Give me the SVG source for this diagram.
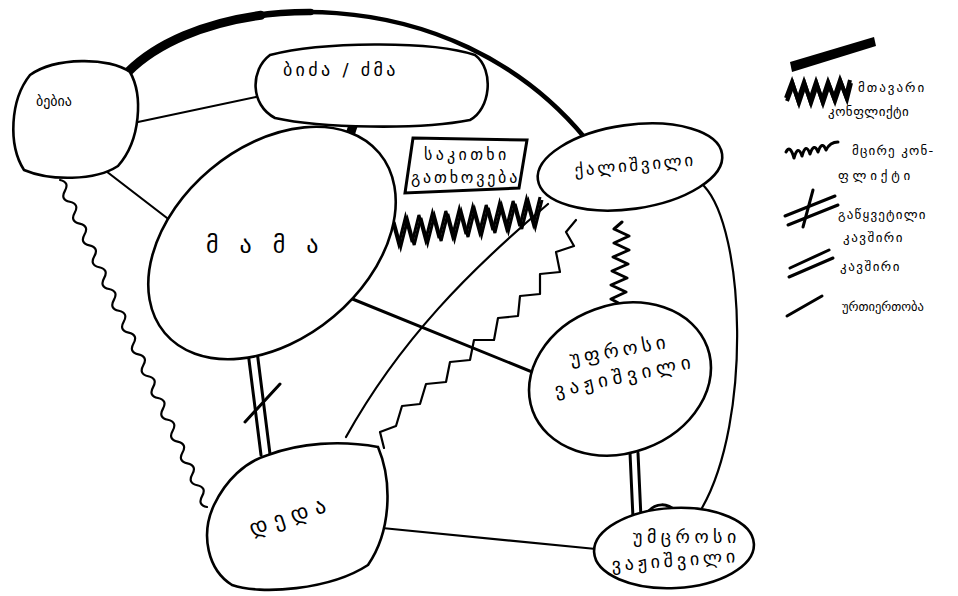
<svg xmlns="http://www.w3.org/2000/svg" width="958" height="596" viewBox="0 0 958 596">
  <style>
    .node { fill: #fff; stroke: #000; stroke-width: 2.6; }
    .lbl { font-family: "DejaVu Sans", "Noto Sans", sans-serif; fill: #000; }
    .thin { fill: none; stroke: #000; stroke-width: 2.2; stroke-linecap: round; stroke-linejoin: round; }
    .med { fill: none; stroke: #000; stroke-width: 3; stroke-linecap: round; stroke-linejoin: round; }
    .heavy { fill: none; stroke: #000; stroke-linecap: round; }
    .zig { fill: none; stroke: #000; stroke-linejoin: miter; }
  </style>
  <rect width="958" height="596" fill="#fff"/>

  <!-- connectors, drawn under the nodes -->
  <g id="connectors">
    <!-- strong tie: grandmother to daughter, tapering from the start -->
    <path class="heavy" stroke-width="4.5" d="M128,72 C210,-10 450,-25 585,138"/>
    <path class="heavy" stroke-width="6.5" d="M128,72 C164.9,35.1 233.8,11.77 310.7,12.1"/>
    <path class="heavy" stroke-width="9" d="M128,72 C156.7,43.3 204.8,22.8 260.9,15.3"/>
    <!-- strong tie: uncle to father -->
    <path d="M349,123 L358,125 L350,150 L341,148 Z" fill="#000"/>
    <!-- plain ties -->
    <path class="thin" d="M138,122 L256,97"/>
    <path class="thin" d="M102,168 L180,228"/>
    <path class="med" d="M350,298 L542,376"/>
    <path class="thin" d="M382,528 L596,549"/>
    <path class="thin" d="M704,186 C745,230 752,420 702,508"/>
    <path class="thin" d="M548,204 C470,270 400,340 346,437"/>
    <!-- wavy line: grandmother to mother -->
    <path class="thin" d="M60,180 Q69.8,182.2 64.9,190.9 T69.8,201.8 T74.7,212.7 T79.6,223.6 T84.5,234.5 T89.4,245.4 T94.3,256.3 T99.2,267.2 T104.1,278.1 T109,289 T113.9,299.9 T118.8,310.8 T123.7,321.7 T128.6,332.6 T133.5,343.5 T138.4,354.4 T143.3,365.3 T148.2,376.2 T153.1,387.1 T158,398 T162.9,408.9 T167.8,419.8 T172.7,430.7 T177.6,441.6 T182.5,452.5 T187.4,463.4 T192.3,474.3 T197.2,485.2 T202.1,496.1 T207,507"/>
    <!-- sawtooth edge: daughter to mother -->
    <path class="thin" d="M576,220 L566,232 L574,246 L556,252 L560,272 L540,274 L540,294 L520,296 L518,316 L498,318 L494,340 L474,340 L470,360 L450,362 L446,382 L426,384 L420,404 L402,406 L396,426 L380,432 L384,448"/>
    <!-- heavy conflict zigzag: father to daughter -->
    <path class="zig" stroke-width="3" d="M392,219 L398.7,244 L405.5,217 L412.2,242 L418.9,215 L425.6,240 L432.4,213 L439.1,238 L445.8,211 L452.5,236 L459.3,209 L466,234 L472.7,207 L479.5,232 L486.2,205 L492.9,230 L499.6,203 L506.4,228 L513.1,201 L519.8,226 L526.5,199 L533.3,224 L540,197"/>
    <path class="zig" stroke-width="3" transform="translate(2,3)" d="M392,219 L398.7,244 L405.5,217 L412.2,242 L418.9,215 L425.6,240 L432.4,213 L439.1,238 L445.8,211 L452.5,236 L459.3,209 L466,234 L472.7,207 L479.5,232 L486.2,205 L492.9,230 L499.6,203 L506.4,228 L513.1,201 L519.8,226 L526.5,199 L533.3,224 L540,197"/>
    <!-- conflict zigzag: daughter to elder son -->
    <path class="med" d="M622,222 L614,229 L629,236 L614,243 L629,250 L613,257 L628,264 L612,271 L627,278 L611,285 L626,292 L611,299 L624,306 L613,313"/>
    <!-- double lines -->
    <path class="med" d="M248,352 L261,455"/>
    <path class="med" d="M257,351 L270,454"/>
    <path class="med" d="M245,422 L280,384"/>
    <path class="med" d="M630,453 L633,518"/>
    <path class="med" d="M638,453 L641,518"/>
    <path class="med" d="M648,512 C655,503 668,502 676,512"/>
  </g>

  <g id="n-grandmother">
    <path class="node" d="M30,75 C55,57 110,57 130,72 C143,95 141,140 118,166 C95,181 50,181 24,170 C8,145 10,100 30,75 Z"/>
    <text class="lbl" x="36" y="106" font-size="14">ბებია</text>
  </g>

  <g id="n-uncle">
    <path class="node" d="M270,55 C320,42 430,40 475,55 C495,70 490,110 470,120 C420,130 320,128 275,118 C250,105 250,70 270,55 Z"/>
    <text class="lbl" x="283" y="76" font-size="18" letter-spacing="3.3">ბიძა / ძმა</text>
  </g>

  <g id="n-father">
    <ellipse class="node" cx="272" cy="243" rx="140" ry="96" transform="rotate(-40 272 243)"/>
    <text class="lbl" x="206" y="253" font-size="24" letter-spacing="21">მამა</text>
  </g>

  <g id="n-issue">
    <path d="M413,138 L527,140 L519,188 L405,193 Z" fill="#fff" stroke="#000" stroke-width="3"/>
    <text class="lbl" x="424" y="160" font-size="16" letter-spacing="3.3">საკითხი</text>
    <text class="lbl" x="411" y="183" font-size="16" letter-spacing="2.8">გათხოვება</text>
  </g>

  <g id="n-daughter">
    <ellipse class="node" cx="630" cy="167" rx="93" ry="42" transform="rotate(-8 630 167)"/>
    <text class="lbl" x="575" y="176" font-size="17" letter-spacing="2.7" transform="rotate(-5 575 176)">ქალიშვილი</text>
  </g>

  <g id="n-elder-son">
    <ellipse class="node" cx="620" cy="379" rx="93" ry="74" transform="rotate(-20 620 379)"/>
    <text class="lbl" x="571" y="365" font-size="19" letter-spacing="4.3" transform="rotate(-10 571 365)">უფროსი</text>
    <text class="lbl" x="556" y="397" font-size="19" letter-spacing="5" transform="rotate(-12 556 397)">ვაჟიშვილი</text>
  </g>

  <g id="n-mother">
    <path class="node" d="M268,455 C300,443 340,440 378,447 C392,480 392,530 368,565 C330,590 260,595 232,585 C208,570 200,535 214,505 C226,480 245,462 268,455 Z"/>
    <text class="lbl" x="252" y="536" font-size="22" letter-spacing="7" transform="rotate(-18 252 536)">დედა</text>
  </g>

  <g id="n-younger-son">
    <ellipse class="node" cx="674" cy="548" rx="80" ry="40" transform="rotate(-3 674 548)"/>
    <text class="lbl" x="633" y="543" font-size="18" letter-spacing="4.5">უმცროსი</text>
    <text class="lbl" x="612" y="571" font-size="18" letter-spacing="3.8" transform="rotate(-4 612 571)">ვაჟიშვილი</text>
  </g>

  <g id="legend">
    <path d="M790,62 L874,37 L876,46 L792,72 Z" fill="#000"/>
    <path class="zig" stroke-width="4" d="M786,98 L792,82 L798,100 L804,82 L810,100 L816,82 L822,100 L828,82 L834,98 L840,80 L846,96 L850,80"/>
    <path class="zig" stroke-width="4" transform="translate(1,3)" d="M786,98 L792,82 L798,100 L804,82 L810,100 L816,82 L822,100 L828,82 L834,98 L840,80 L846,96 L850,80"/>
    <text class="lbl" x="858" y="92" font-size="13" letter-spacing="2">მთავარი</text>
    <text class="lbl" x="828" y="116" font-size="13" letter-spacing="0.5">კონფლიქტი</text>
    <path class="med" d="M786,152 Q790,144 794,158 Q798,144 802,156 Q806,142 810,154 Q814,142 818,152 Q822,140 826,150 Q830,142 838,142"/>
    <text class="lbl" x="852" y="155" font-size="13" letter-spacing="1.2">მცირე კონ-</text>
    <text class="lbl" x="838" y="180" font-size="13" letter-spacing="3.8">ფლიქტი</text>
    <path class="med" d="M785,216 L835,196"/>
    <path class="med" d="M788,225 L838,205"/>
    <path class="med" d="M803,227 L813,190"/>
    <text class="lbl" x="838" y="219" font-size="13" letter-spacing="1.2">გაწყვეტილი</text>
    <text class="lbl" x="843" y="242" font-size="13" letter-spacing="1.5">კავშირი</text>
    <path class="med" d="M790,268 L829,250"/>
    <path class="med" d="M789,277 L833,258"/>
    <text class="lbl" x="840" y="271" font-size="13" letter-spacing="1.5">კავშირი</text>
    <path class="med" d="M787,316 L822,296"/>
    <text class="lbl" x="842" y="311" font-size="12.5">ურთიერთობა</text>
  </g>
</svg>
